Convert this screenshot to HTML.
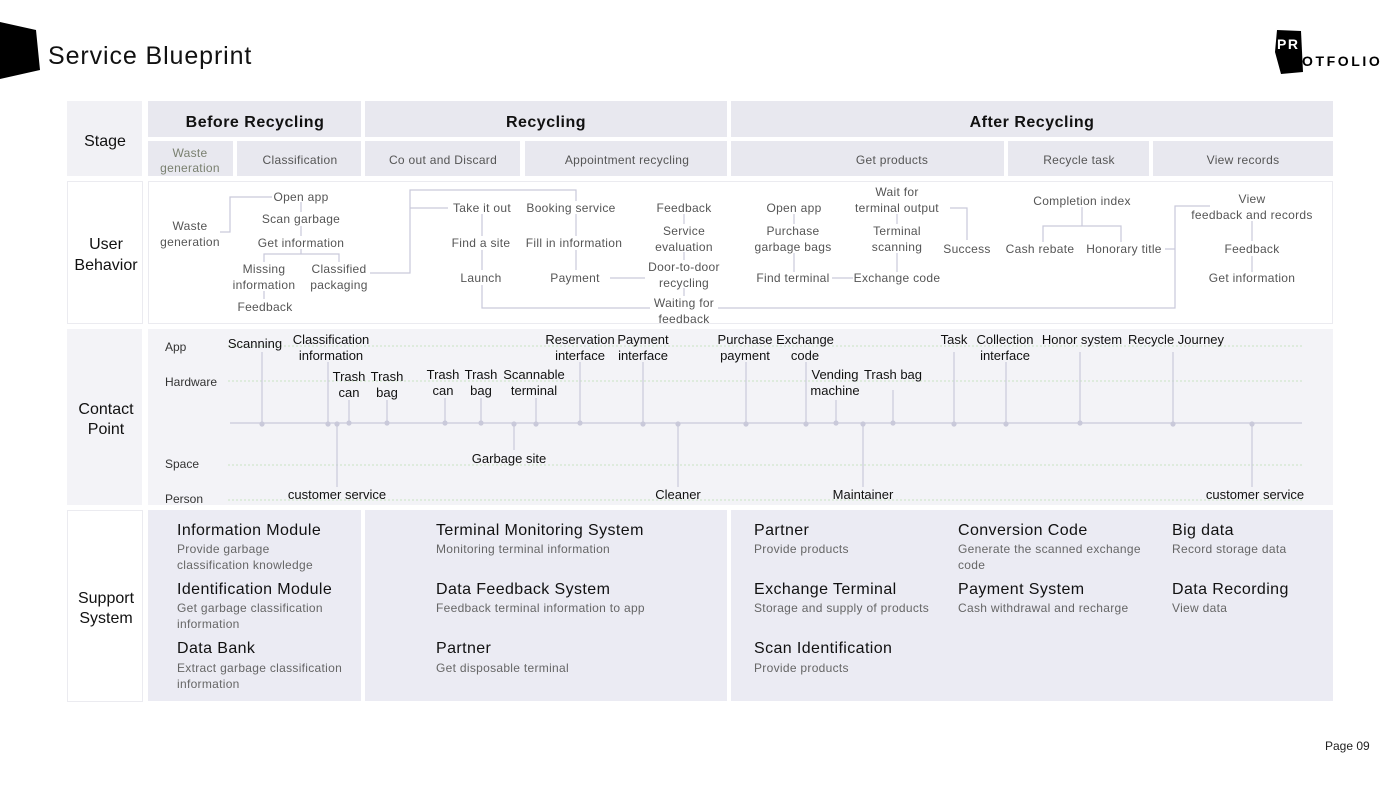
<!DOCTYPE html>
<html><head><meta charset="utf-8"><style>
body{margin:0;background:#fff}
svg{display:block;font-family:"Liberation Sans",sans-serif}
.b{font-size:12px;fill:#555;text-anchor:middle;letter-spacing:.3px}
.c{font-size:13px;fill:#111;text-anchor:middle}
.r{font-size:12px;fill:#333}
.l{stroke:#c9c9da;stroke-width:1.2;fill:none}
.h{font-size:16px;fill:#111;text-anchor:middle;font-weight:bold;letter-spacing:.5px}
.s{font-size:12px;fill:#555;text-anchor:middle;letter-spacing:.3px}
.t{font-size:16px;fill:#111;letter-spacing:.4px}
.d{font-size:12px;fill:#666;letter-spacing:.3px}
.k{font-size:16px;fill:#111;text-anchor:middle}
.g{stroke:#c9e3c3;stroke-width:1;stroke-dasharray:2 2}
</style></head><body>
<svg width="1400" height="788" viewBox="0 0 1400 788">
<polygon points="0,22 36,30 40,70 0,79" fill="#000"/>
<text x="48" y="64" font-size="25" fill="#111" letter-spacing="0.9">Service Blueprint</text>
<polygon points="1277,30 1301,31 1303,72 1281,74 1275,52" fill="#000"/>
<text x="1277" y="49" font-size="14" font-weight="bold" fill="#fff" letter-spacing="1.5">PR</text>
<text x="1302" y="66" font-size="14" font-weight="bold" fill="#000" letter-spacing="2.6">OTFOLIO</text>
<text x="1325" y="750" font-size="12" fill="#222">Page 09</text>

<rect x="67" y="101" width="75" height="75" fill="#f1f1f5"/>
<rect x="67.5" y="181.5" width="75" height="142" fill="#fff" stroke="#ebebf0"/>
<rect x="67" y="329" width="75" height="176" fill="#f3f3f7"/>
<rect x="67.5" y="510.5" width="75" height="191" fill="#fff" stroke="#ebebf0"/>
<text class="k" x="105" y="146">Stage</text>
<text class="k" x="106" y="249">User</text><text class="k" x="106" y="270">Behavior</text>
<text class="k" x="106" y="414">Contact</text><text class="k" x="106" y="434">Point</text>
<text class="k" x="106" y="603">Support</text><text class="k" x="106" y="623">System</text>

<g fill="#e8e8ef">
<rect x="148" y="101" width="213" height="36"/><rect x="365" y="101" width="362" height="36"/><rect x="731" y="101" width="602" height="36"/>
<rect x="148" y="141" width="85" height="35"/><rect x="237" y="141" width="124" height="35"/><rect x="365" y="141" width="155" height="35"/><rect x="525" y="141" width="202" height="35"/><rect x="731" y="141" width="273" height="35"/><rect x="1008" y="141" width="141" height="35"/><rect x="1153" y="141" width="180" height="35"/>
</g>
<text class="h" x="255" y="127">Before Recycling</text>
<text class="h" x="546" y="127">Recycling</text>
<text class="h" x="1032" y="127">After Recycling</text>
<text class="s" x="190" y="157" style="fill:#7a8070">Waste</text><text class="s" x="190" y="172" style="fill:#7a8070">generation</text>
<text class="s" x="300" y="164">Classification</text>
<text class="s" x="443" y="164">Co out and Discard</text>
<text class="s" x="627" y="164">Appointment recycling</text>
<text class="s" x="892" y="164">Get products</text>
<text class="s" x="1079" y="164">Recycle task</text>
<text class="s" x="1243" y="164">View records</text>

<rect x="148.5" y="181.5" width="1184" height="142" fill="#fff" stroke="#ebebf0"/>
<g class="l">
<polyline points="220,232 230,232 230,197 272,197"/>
<line x1="301" y1="202" x2="301" y2="212"/><line x1="301" y1="226" x2="301" y2="236"/>
<polyline points="301,249 301,254"/><polyline points="264,262 264,254 339,254 339,262"/>
<line x1="264" y1="291" x2="264" y2="299"/>
<polyline points="370,273 410,273 410,190 576,190 576,201"/><line x1="410" y1="208" x2="448" y2="208"/>
<line x1="482" y1="214" x2="482" y2="236"/><line x1="482" y1="250" x2="482" y2="270"/>
<polyline points="482,285 482,308 650,308"/>
<line x1="576" y1="214" x2="576" y2="236"/><line x1="576" y1="250" x2="576" y2="270"/>
<line x1="610" y1="278" x2="645" y2="278"/>
<line x1="684" y1="214" x2="684" y2="224"/><line x1="684" y1="252" x2="684" y2="260"/><line x1="684" y1="288" x2="684" y2="296"/>
<polyline points="718,308 1175,308 1175,206 1210,206"/><line x1="1165" y1="249" x2="1175" y2="249"/>
<line x1="794" y1="214" x2="794" y2="224"/><line x1="794" y1="253" x2="794" y2="272"/>
<line x1="832" y1="278" x2="853" y2="278"/>
<line x1="897" y1="214" x2="897" y2="224"/><line x1="897" y1="253" x2="897" y2="272"/>
<polyline points="950,208 967,208 967,240"/>
<line x1="1082" y1="207" x2="1082" y2="226"/><polyline points="1043,242 1043,226 1121,226 1121,242"/>
<line x1="1252" y1="221" x2="1252" y2="241"/><line x1="1252" y1="256" x2="1252" y2="272"/>
</g>
<text class="b" x="190" y="230">Waste</text><text class="b" x="190" y="246">generation</text>
<text class="b" x="301" y="201">Open app</text><text class="b" x="301" y="223">Scan garbage</text><text class="b" x="301" y="247">Get information</text>
<text class="b" x="264" y="273">Missing</text><text class="b" x="264" y="289">information</text>
<text class="b" x="339" y="273">Classified</text><text class="b" x="339" y="289">packaging</text>
<text class="b" x="265" y="311">Feedback</text>
<text class="b" x="482" y="212">Take it out</text><text class="b" x="481" y="247">Find a site</text><text class="b" x="481" y="282">Launch</text>
<text class="b" x="571" y="212">Booking service</text><text class="b" x="574" y="247">Fill in information</text><text class="b" x="575" y="282">Payment</text>
<text class="b" x="684" y="212">Feedback</text><text class="b" x="684" y="235">Service</text><text class="b" x="684" y="251">evaluation</text>
<text class="b" x="684" y="271">Door-to-door</text><text class="b" x="684" y="287">recycling</text>
<text class="b" x="684" y="307">Waiting for</text><text class="b" x="684" y="323">feedback</text>
<text class="b" x="794" y="212">Open app</text><text class="b" x="793" y="235">Purchase</text><text class="b" x="793" y="251">garbage bags</text>
<text class="b" x="793" y="282">Find terminal</text><text class="b" x="897" y="282">Exchange code</text>
<text class="b" x="897" y="196">Wait for</text><text class="b" x="897" y="212">terminal output</text>
<text class="b" x="897" y="235">Terminal</text><text class="b" x="897" y="251">scanning</text>
<text class="b" x="967" y="253">Success</text>
<text class="b" x="1082" y="205">Completion index</text>
<text class="b" x="1040" y="253">Cash rebate</text><text class="b" x="1124" y="253">Honorary title</text>
<text class="b" x="1252" y="203">View</text><text class="b" x="1252" y="219">feedback and records</text>
<text class="b" x="1252" y="253">Feedback</text><text class="b" x="1252" y="282">Get information</text>

<rect x="148" y="329" width="1185" height="176" fill="#f3f3f7"/>
<g class="g"><line x1="228" y1="346" x2="1302" y2="346"/><line x1="228" y1="381" x2="1302" y2="381"/><line x1="228" y1="465" x2="1302" y2="465"/><line x1="228" y1="500" x2="1302" y2="500"/></g>
<text class="r" x="165" y="351">App</text><text class="r" x="165" y="386">Hardware</text><text class="r" x="165" y="468">Space</text><text class="r" x="165" y="503">Person</text>
<line class="l" x1="230" y1="423" x2="1302" y2="423"/>
<g class="l">
<line x1="262" y1="352" x2="262" y2="423"/><line x1="328" y1="362" x2="328" y2="423"/><line x1="337" y1="423" x2="337" y2="487"/>
<line x1="349" y1="400" x2="349" y2="423"/><line x1="387" y1="400" x2="387" y2="423"/><line x1="445" y1="398" x2="445" y2="423"/>
<line x1="481" y1="398" x2="481" y2="423"/><line x1="514" y1="423" x2="514" y2="450"/><line x1="536" y1="398" x2="536" y2="423"/>
<line x1="580" y1="362" x2="580" y2="423"/><line x1="643" y1="362" x2="643" y2="423"/><line x1="678" y1="423" x2="678" y2="487"/>
<line x1="746" y1="362" x2="746" y2="423"/><line x1="806" y1="362" x2="806" y2="423"/><line x1="836" y1="400" x2="836" y2="423"/>
<line x1="863" y1="423" x2="863" y2="487"/><line x1="893" y1="390" x2="893" y2="423"/><line x1="954" y1="352" x2="954" y2="423"/>
<line x1="1006" y1="362" x2="1006" y2="423"/><line x1="1080" y1="352" x2="1080" y2="423"/><line x1="1173" y1="352" x2="1173" y2="423"/>
<line x1="1252" y1="423" x2="1252" y2="487"/>
</g>
<g fill="#c9c9da">
<circle cx="262" cy="424" r="2.6"/><circle cx="328" cy="424" r="2.6"/><circle cx="337" cy="424" r="2.6"/><circle cx="349" cy="423" r="2.6"/><circle cx="387" cy="423" r="2.6"/><circle cx="445" cy="423" r="2.6"/><circle cx="481" cy="423" r="2.6"/><circle cx="514" cy="424" r="2.6"/><circle cx="536" cy="424" r="2.6"/><circle cx="580" cy="423" r="2.6"/><circle cx="643" cy="424" r="2.6"/><circle cx="678" cy="424" r="2.6"/><circle cx="746" cy="424" r="2.6"/><circle cx="806" cy="424" r="2.6"/><circle cx="836" cy="423" r="2.6"/><circle cx="863" cy="424" r="2.6"/><circle cx="893" cy="423" r="2.6"/><circle cx="954" cy="424" r="2.6"/><circle cx="1006" cy="424" r="2.6"/><circle cx="1080" cy="423" r="2.6"/><circle cx="1173" cy="424" r="2.6"/><circle cx="1252" cy="424" r="2.6"/>
</g>
<text class="c" x="255" y="348">Scanning</text>
<text class="c" x="331" y="344">Classification</text><text class="c" x="331" y="360">information</text>
<text class="c" x="349" y="381">Trash</text><text class="c" x="349" y="397">can</text>
<text class="c" x="387" y="381">Trash</text><text class="c" x="387" y="397">bag</text>
<text class="c" x="443" y="379">Trash</text><text class="c" x="443" y="395">can</text>
<text class="c" x="481" y="379">Trash</text><text class="c" x="481" y="395">bag</text>
<text class="c" x="534" y="379">Scannable</text><text class="c" x="534" y="395">terminal</text>
<text class="c" x="509" y="463">Garbage site</text>
<text class="c" x="580" y="344">Reservation</text><text class="c" x="580" y="360">interface</text>
<text class="c" x="643" y="344">Payment</text><text class="c" x="643" y="360">interface</text>
<text class="c" x="337" y="499">customer service</text>
<text class="c" x="678" y="499">Cleaner</text>
<text class="c" x="745" y="344">Purchase</text><text class="c" x="745" y="360">payment</text>
<text class="c" x="805" y="344">Exchange</text><text class="c" x="805" y="360">code</text>
<text class="c" x="835" y="379">Vending</text><text class="c" x="835" y="395">machine</text>
<text class="c" x="893" y="379">Trash bag</text>
<text class="c" x="863" y="499">Maintainer</text>
<text class="c" x="954" y="344">Task</text>
<text class="c" x="1005" y="344">Collection</text><text class="c" x="1005" y="360">interface</text>
<text class="c" x="1082" y="344">Honor system</text>
<text class="c" x="1176" y="344">Recycle Journey</text>
<text class="c" x="1255" y="499">customer service</text>

<g fill="#ebebf3"><rect x="148" y="510" width="213" height="191"/><rect x="365" y="510" width="362" height="191"/><rect x="731" y="510" width="602" height="191"/></g>
<text class="t" x="177" y="535">Information Module</text><text class="d" x="177" y="553">Provide garbage</text><text class="d" x="177" y="569">classification knowledge</text>
<text class="t" x="177" y="594">Identification Module</text><text class="d" x="177" y="612">Get garbage classification</text><text class="d" x="177" y="628">information</text>
<text class="t" x="177" y="653">Data Bank</text><text class="d" x="177" y="672">Extract garbage classification</text><text class="d" x="177" y="688">information</text>
<text class="t" x="436" y="535">Terminal Monitoring System</text><text class="d" x="436" y="553">Monitoring terminal information</text>
<text class="t" x="436" y="594">Data Feedback System</text><text class="d" x="436" y="612">Feedback terminal information to app</text>
<text class="t" x="436" y="653">Partner</text><text class="d" x="436" y="672">Get disposable terminal</text>
<text class="t" x="754" y="535">Partner</text><text class="d" x="754" y="553">Provide products</text>
<text class="t" x="754" y="594">Exchange Terminal</text><text class="d" x="754" y="612">Storage and supply of products</text>
<text class="t" x="754" y="653">Scan Identification</text><text class="d" x="754" y="672">Provide products</text>
<text class="t" x="958" y="535">Conversion Code</text><text class="d" x="958" y="553">Generate the scanned exchange</text><text class="d" x="958" y="569">code</text>
<text class="t" x="958" y="594">Payment System</text><text class="d" x="958" y="612">Cash withdrawal and recharge</text>
<text class="t" x="1172" y="535">Big data</text><text class="d" x="1172" y="553">Record storage data</text>
<text class="t" x="1172" y="594">Data Recording</text><text class="d" x="1172" y="612">View data</text>
</svg>
</body></html>
